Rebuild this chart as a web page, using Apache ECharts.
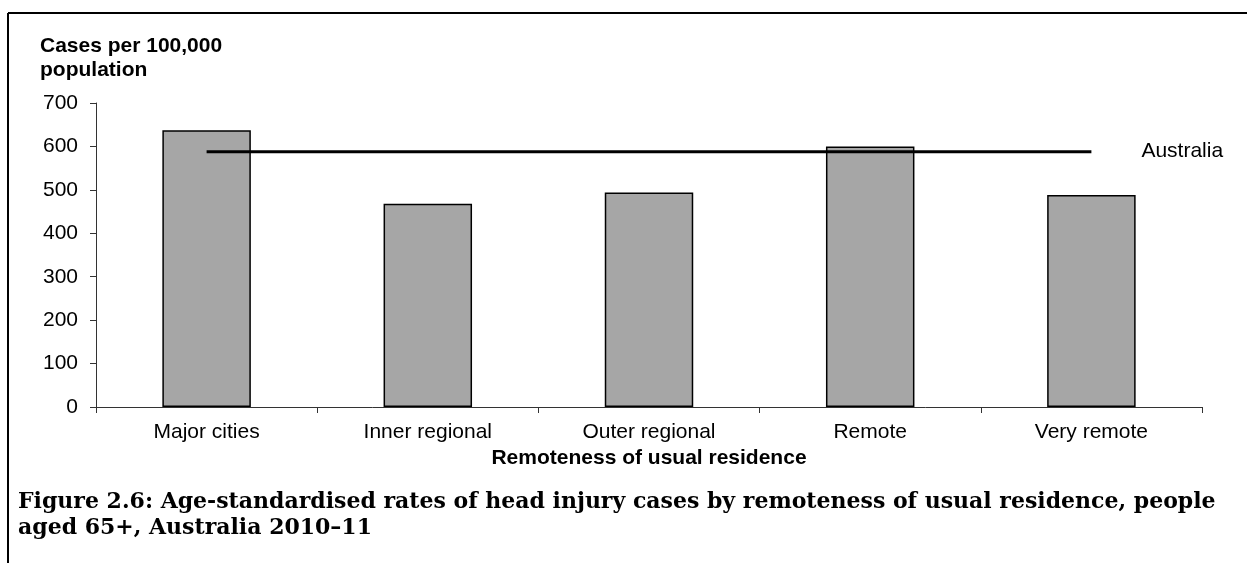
<!DOCTYPE html>
<html>
<head>
<meta charset="utf-8">
<script src="https://cdn.jsdelivr.net/npm/echarts@6/dist/echarts.min.js"></script>
<style>
  html, body { margin: 0; padding: 0; background: #fff; }
  #chart { width: 1247px; height: 563px; }
</style>
</head>
<body>
<div id="chart"></div>
<script>
// data
var categories = ['Major cities', 'Inner regional', 'Outer regional', 'Remote', 'Very remote'];
var rates = [637, 468, 494, 600, 488];
var australiaRate = 588;
var yTicks = { min: 0, max: 700, step: 100 };

var chart = echarts.init(document.getElementById('chart'));

var australiaLine = categories.map(function() { return australiaRate; });
var sans = 'Arial, "Liberation Sans"';

var option = {
	backgroundColor: '#fff',
	animation: false,
	title: {
		text: 'Cases per 100,000\npopulation',
		left: 35,
		top: 29,
		textStyle: {
			fontFamily: sans,
			fontSize: 21,
			fontWeight: 'bold',
			color: '#000',
			lineHeight: 24
		}
	},
	grid: { left: 96, right: 45, top: 103, bottom: 156 },
	xAxis: {
		type: 'category',
		data: categories,
		name: 'Remoteness of usual residence',
		nameLocation: 'middle',
		nameGap: 38,
		nameTextStyle: { fontFamily: sans, fontSize: 21, fontWeight: 'bold', color: '#000' },
		axisLine: { lineStyle: { color: '#333', width: 1 } },
		axisTick: { show: true, length: 6, interval: 0, lineStyle: { color: '#333' } },
		axisLabel: { fontFamily: sans, fontSize: 21, color: '#000', margin: 15, interval: 0 }
	},
	yAxis: {
		type: 'value',
		min: yTicks.min,
		max: yTicks.max,
		interval: yTicks.step,
		axisLine: { show: true, lineStyle: { color: '#333', width: 1 } },
		axisTick: { show: true, length: 6, lineStyle: { color: '#333' } },
		splitLine: { show: false },
		axisLabel: { fontFamily: sans, fontSize: 21, color: '#000', margin: 18 }
	},
	series: [{
		type: 'bar',
		data: rates,
		barWidth: '40%',
		itemStyle: { color: '#a6a6a6', borderColor: '#000', borderWidth: 1.5 },
		z: 2
	}, {
		type: 'line',
		data: australiaLine,
		symbol: 'none',
		lineStyle: { color: '#000', width: 3 },
		z: 3,
		endLabel: {
			show: true,
			formatter: 'Australia',
			distance: 50,
			fontFamily: sans,
			fontSize: 21,
			color: '#000'
		}
	}],
	graphic: [{
		type: 'line',
		shape: { x1: 8, y1: 13, x2: 1247, y2: 13 },
		style: { stroke: '#000', lineWidth: 2 }
	}, {
		type: 'line',
		shape: { x1: 8, y1: 13, x2: 8, y2: 563 },
		style: { stroke: '#000', lineWidth: 2 }
	}, {
		type: 'text',
		left: 18,
		top: 489,
		style: {
			text: 'Figure 2.6: Age-standardised rates of head injury cases by remoteness of usual residence, people\naged 65+, Australia 2010\u201311',
			font: 'bold 22px "DejaVu Serif", serif',
			fill: '#000',
			lineHeight: 26
		}
	}]
};
chart.setOption(option);
</script>
</body>
</html>
